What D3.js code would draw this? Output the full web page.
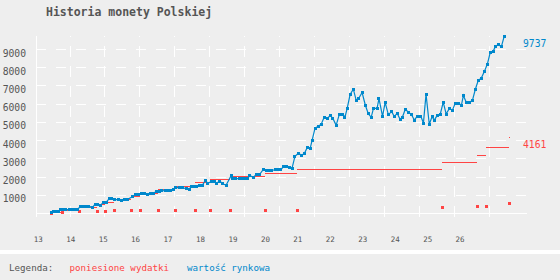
<!DOCTYPE html>
<html><head><meta charset="utf-8">
<script src="https://cdn.jsdelivr.net/npm/d3@7"></script>
<style>
html,body{margin:0;padding:0;background:#eeeeee;}
svg{display:block;}
text{font-family:"DejaVu Sans Mono",monospace;}
</style></head><body>
<svg id="c" width="560" height="280"></svg>
<script>
const title = "Historia monety Polskiej";
const yearTicks = [13,14,15,16,17,18,19,20,21,22,23,24,25,26];
const valueTicks = [1000,2000,3000,4000,5000,6000,7000,8000,9000];
const legendTitle = "Legenda:";
const legendLabels = ["poniesione wydatki", "wartość rynkowa"];

// market value series (decimal year, value)
const marketDates = [13.41,13.47,13.55,13.62,13.67,13.76,13.85,13.95,14.04,14.13,14.22,
14.29,14.38,14.47,14.56,14.67,14.75,14.84,14.92,
15.00,15.09,15.18,15.27,15.36,15.46,15.56,15.66,15.75,15.89,
16.00,16.09,16.18,16.27,16.37,16.46,16.55,16.64,16.74,16.81,
16.91,17.00,17.09,17.17,17.24,17.34,17.43,17.57,17.65,17.71,
17.80,17.89,17.97,18.05,18.14,18.23,18.34,18.42,18.49,18.60,
18.69,18.79,18.94,19.00,19.09,19.19,19.28,19.37,19.46,19.51,
19.62,19.73,19.82,19.93,20.03,20.11,20.20,20.30,20.40,20.48,
20.56,20.65,20.74,20.82,20.91,21.01,21.12,21.20,21.29,21.38,
21.44,21.53,21.63,21.72,21.81,21.90,22.00,22.08,22.18,22.28,
22.39,22.45,22.52,22.61,22.71,22.80,22.88,22.98,23.08,23.17,
23.26,23.33,23.44,23.50,23.61,23.69,23.79,23.89,23.97,24.06,
24.15,24.22,24.31,24.40,24.50,24.59,24.68,24.79,24.87,24.95,
25.05,25.14,25.20,25.30,25.39,25.48,25.57,25.67,25.76,25.85,
25.96,26.04,26.10,26.19,26.30,26.38,26.47,26.56,26.65,26.75,
26.84,26.93,27.02,27.08,27.18,27.27,27.36];
const marketValues = [70,120,120,120,210,210,210,210,210,210,210,
400,400,400,400,320,520,520,450,
610,610,800,800,760,760,700,780,780,910,
1040,1040,1090,1090,1030,1110,1110,1220,1220,1250,
1260,1250,1250,1340,1420,1420,1420,1360,1320,1470,
1470,1470,1530,1530,1790,1670,1750,1750,1670,1770,
1620,1560,2060,1910,1910,1910,1910,1910,1910,2100,
1990,2140,2140,2410,2370,2370,2360,2410,2410,2410,
2590,2590,2520,2480,3140,3290,3210,3290,3620,3580,
4030,4680,4790,4900,5280,5210,5370,5220,4840,5450,
5450,5270,5770,6530,6820,6190,6330,6640,5940,5480,
5280,5770,5770,6300,5330,6100,5410,5600,5320,5500,
5170,5280,5720,5570,5430,5130,5340,5340,4960,6550,
4900,5330,5110,5400,5460,6110,5460,5770,5660,6050,
6050,5940,6470,6100,6100,6210,6820,7310,7420,7800,
8200,8850,8900,9140,9290,9140,9737];

// expenses: purchase dates, cumulative level after purchase, single purchase amount
const costDates = [13.39,13.74,14.26,14.82,15.07,15.34,15.87,16.14,16.70,17.22,17.84,18.30,18.92,20.00,20.98,25.45,26.53,26.81,27.52];
const costLevels = [40,150,330,470,610,780,940,1110,1330,1470,1710,1880,2040,2210,2440,2810,3190,3630,4161];
const purchaseAmounts = [40,70,120,120,120,180,180,180,180,180,180,180,180,180,180,340,400,400,560];

const BLUE = "#0088cc", RED = "#ff4444", GREY = "#555555";
const svg = d3.select("#c");
const x = d3.scaleLinear().domain([12.93, 28.0]).range([36, 525]);
const y = d3.scaleLinear().domain([0, 9000]).range([213.5, 49.5]);
const px = v => Math.floor(v) + 0.5;

// title
svg.append("text").attr("x", 46).attr("y", 15.5).attr("font-size", 11.5)
  .attr("font-weight", "bold").attr("fill", GREY).text(title);

// horizontal dashed grid
svg.append("g").selectAll("line").data(valueTicks).join("line")
  .attr("x1", 36).attr("x2", 527).attr("y1", d => px(y(d))).attr("y2", d => px(y(d)))
  .attr("stroke", "#fff").attr("stroke-width", 1).attr("stroke-dasharray", "10,10")
  .attr("shape-rendering", "crispEdges");

// vertical dashed grid
const vGrid = d3.range(13).map(k => 70 + k * 34.94);
svg.append("g").selectAll("line").data(vGrid).join("line")
  .attr("x1", d => px(d)).attr("x2", d => px(d)).attr("y1", 217).attr("y2", 36)
  .attr("stroke", "#fff").attr("stroke-width", 1).attr("stroke-dasharray", "11,9")
  .attr("shape-rendering", "crispEdges");

// axes lines
svg.append("line").attr("x1", 36.5).attr("x2", 36.5).attr("y1", 36).attr("y2", 217)
  .attr("stroke", "#fff").attr("shape-rendering", "crispEdges");
svg.append("line").attr("x1", 36).attr("x2", 527).attr("y1", px(y(0)) + 0.0).attr("y2", px(y(0)))
  .attr("stroke", "#fff").attr("shape-rendering", "crispEdges");

// y labels
svg.append("g").selectAll("text").data(valueTicks).join("text")
  .attr("x", 26).attr("y", d => y(d) + 7).attr("text-anchor", "end")
  .attr("font-size", 9.7).attr("fill", GREY).text(d => d);

// x labels
svg.append("g").selectAll("text").data(yearTicks).join("text")
  .attr("x", d => x(d)).attr("y", 242).attr("text-anchor", "middle")
  .attr("font-size", 7.5).attr("fill", GREY).text(d => d);

// expenses: small squares (single purchase)
svg.append("g").selectAll("rect").data(costDates.map((d, i) => [d, purchaseAmounts[i]])).join("rect")
  .attr("x", d => Math.round(x(d[0])) - 1.5 + 0.5).attr("y", d => Math.round(y(d[1])) - 1.5 + 0.5)
  .attr("width", 3).attr("height", 3).attr("fill", RED).attr("shape-rendering", "crispEdges");

// expenses: cumulative step segments
const segs = costDates.map((d, i) => ({x0: d, x1: i < costDates.length - 1 ? costDates[i + 1] : null, v: costLevels[i]}));
svg.append("g").selectAll("line").data(segs).join("line")
  .attr("x1", d => x(d.x0)).attr("x2", d => d.x1 === null ? x(d.x0) + 1 : x(d.x1))
  .attr("y1", d => px(y(d.v))).attr("y2", d => px(y(d.v)))
  .attr("stroke", RED).attr("stroke-width", 1).attr("shape-rendering", "crispEdges");

// market value line + markers
const mk = marketDates.map((d, i) => [d, marketValues[i]]);
svg.append("path").datum(mk)
  .attr("d", d3.line().x(d => x(d[0])).y(d => y(d[1])))
  .attr("fill", "none").attr("stroke", BLUE).attr("stroke-width", 1.2);
svg.append("g").selectAll("rect").data(mk).join("rect")
  .attr("x", d => Math.round(x(d[0]) - 1.5)).attr("y", d => Math.round(y(d[1]) - 1.5))
  .attr("width", 3).attr("height", 3).attr("fill", BLUE).attr("shape-rendering", "crispEdges");

// end labels
const lastM = mk[mk.length - 1];
svg.append("text").attr("x", 523).attr("y", y(lastM[1]) + 10.8).attr("font-size", 9.7)
  .attr("fill", BLUE).text(lastM[1]);
const lastC = costLevels[costLevels.length - 1];
svg.append("text").attr("x", 523).attr("y", y(lastC) + 10.5).attr("font-size", 9.7)
  .attr("fill", RED).text(lastC);

// legend separator
svg.append("rect").attr("x", 0).attr("y", 250).attr("width", 560).attr("height", 4).attr("fill", "#fff");
const lg = svg.append("text").attr("y", 270.5).attr("font-size", 9.2);
lg.append("tspan").attr("x", 9).attr("fill", GREY).text(legendTitle);
lg.append("tspan").attr("x", 69.5).attr("fill", RED).text(legendLabels[0]);
lg.append("tspan").attr("x", 187).attr("fill", BLUE).text(legendLabels[1]);
</script>
</body></html>
